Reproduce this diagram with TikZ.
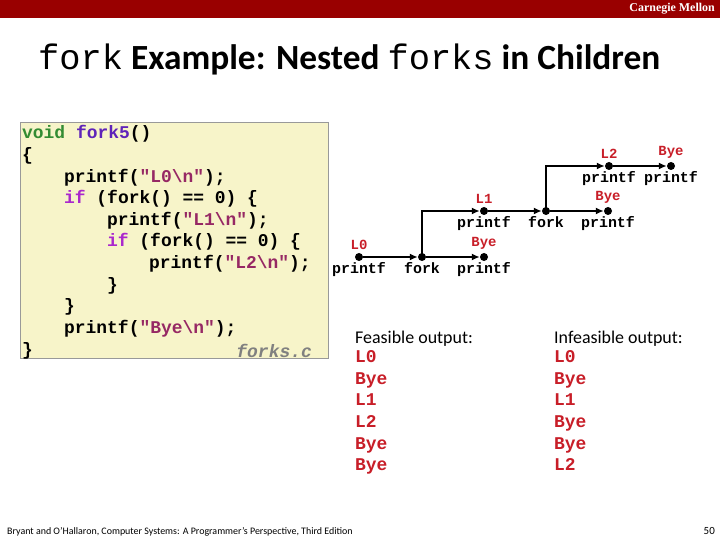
\documentclass[tikz,border=0pt]{standalone}
\usepackage{fontspec}
\setmainfont{Carlito}
\newfontfamily\cour{Liberation Mono}
\newfontfamily\tms{Liberation Serif}
\usetikzlibrary{arrows.meta}

\definecolor{barred}{RGB}{153,0,0}
\definecolor{codebg}{RGB}{247,244,201}
\definecolor{kwgreen}{RGB}{51,140,51}
\definecolor{fnblue}{RGB}{95,35,185}
\definecolor{kwpurple}{RGB}{170,40,205}
\definecolor{strred}{RGB}{150,40,100}
\definecolor{outred}{RGB}{200,30,40}

\tikzset{
  code/.style={anchor=base west, inner sep=0pt, font=\cour\bfseries\fontsize{18}{21.6}\selectfont},
  outline/.style={anchor=base west, inner sep=0pt, text=outred, font=\cour\bfseries\fontsize{18}{21.6}\selectfont},
  dot/.style={circle, fill=black, inner sep=0pt, minimum size=8bp},
  evt/.style={text=outred, font=\cour\bfseries\fontsize{14}{16}\selectfont, inner sep=1pt, label distance=2bp},
  call/.style={font=\cour\bfseries\fontsize{15}{17}\selectfont, inner sep=1pt},
  flow/.style={line width=2.3bp, -{Latex[length=8bp,width=7bp]}}
}

\newcommand{\str}[1]{\textcolor{strred}{"#1\textbackslash n"}}

\begin{document}
\begin{tikzpicture}[x=1bp, y=-1bp]
  \useasboundingbox (0,0) rectangle (720,540);
  % Barra
  \fill[barred] (0,0) rectangle (720,18);
  \node[anchor=east, inner sep=0pt, text=white, font=\tms\bfseries\fontsize{12}{14}\selectfont] (cmu) at (715,9) {Carnegie Mellon};
  % Titolo
  \node[anchor=base west, inner sep=0pt, font=\fontsize{35.5}{42}\selectfont] (title) at (38,70)
    {{\cour fork}\textbf{ Example: Nested }{\cour forks}\textbf{ in Children}};
  % Codice
  \draw[fill=codebg, draw=gray!80, line width=0.8bp] (20,122) rectangle (328,358);
  \node[code] (c1)  at (22,139)   {\textcolor{kwgreen}{void} \textcolor{fnblue}{fork5}()};
  \node[code] (c2)  at (22,160.6) {\{};
  \node[code] (c3)  at (64,182.2) {printf(\str{L0});};
  \node[code] (c4)  at (64,203.8) {\textcolor{kwpurple}{if} (fork() == 0) \{};
  \node[code] (c5)  at (107,225.4) {printf(\str{L1});};
  \node[code] (c6)  at (107,247)  {\textcolor{kwpurple}{if} (fork() == 0) \{};
  \node[code] (c7)  at (149,268.6) {printf(\str{L2});};
  \node[code] (c8)  at (107,290.2) {\}};
  \node[code] (c9)  at (64,311.8) {\}};
  \node[code] (c10) at (64,333.4) {printf(\str{Bye});};
  \node[code] (c11) at (22,355)   {\}};
  \node[code, anchor=base east, text=gray, font=\cour\bfseries\itshape\fontsize{18}{21.6}\selectfont] (file) at (312,357) {forks.c};
  % Grafo
  \node[dot, label={[evt]above:L0}, label={[call]below:printf}] (l0) at (359,257) {};
  \node[dot, label={[call]below:fork}] (fk1) at (422,257) {};
  \node[dot, label={[evt]above:Bye}, label={[call]below:printf}] (bye1) at (484,257) {};
  \node[dot, label={[evt]above:L1}, label={[call]below:printf}] (l1) at (484,211) {};
  \node[dot, label={[call]below:fork}] (fk2) at (546,211) {};
  \node[dot, label={[evt]above:Bye}, label={[call]below:printf}] (bye2) at (608,211) {};
  \node[dot, label={[evt]above:L2}, label={[call]below:printf}] (l2) at (609,166) {};
  \node[dot, label={[evt]above:Bye}, label={[call]below:printf}] (bye3) at (671,166) {};
  \draw[flow] (l0) -- (fk1);
  \draw[flow] (fk1) -- (bye1);
  \draw[flow] (fk1.center) |- (l1);
  \draw[flow] (l1) -- (fk2);
  \draw[flow] (fk2) -- (bye2);
  \draw[flow] (fk2.center) |- (l2);
  \draw[flow] (l2) -- (bye3);
  % Uscite
  \node[anchor=base west, inner sep=0pt, font=\fontsize{18}{21}\selectfont] (feas) at (355,343) {Feasible output:};
  \node[anchor=base west, inner sep=0pt, font=\fontsize{18}{21}\selectfont] (infeas) at (554,343) {Infeasible output:};
  \foreach \t [count=\i] in {L0,Bye,L1,L2,Bye,Bye}
    \node[outline] (f\i) at (355,341+21.6*\i) {\t};
  \foreach \t [count=\i] in {L0,Bye,L1,Bye,Bye,L2}
    \node[outline] (g\i) at (554,341+21.6*\i) {\t};
  % Piede
  \node[anchor=base west, inner sep=0pt, font=\fontsize{10}{12}\selectfont] (foot) at (7,534)
    {Bryant and O'Hallaron, Computer Systems: A Programmer's Perspective, Third Edition};
  \node[anchor=base east, inner sep=0pt, font=\fontsize{11}{13}\selectfont] (page) at (715,534) {50};
\end{tikzpicture}
\end{document}
